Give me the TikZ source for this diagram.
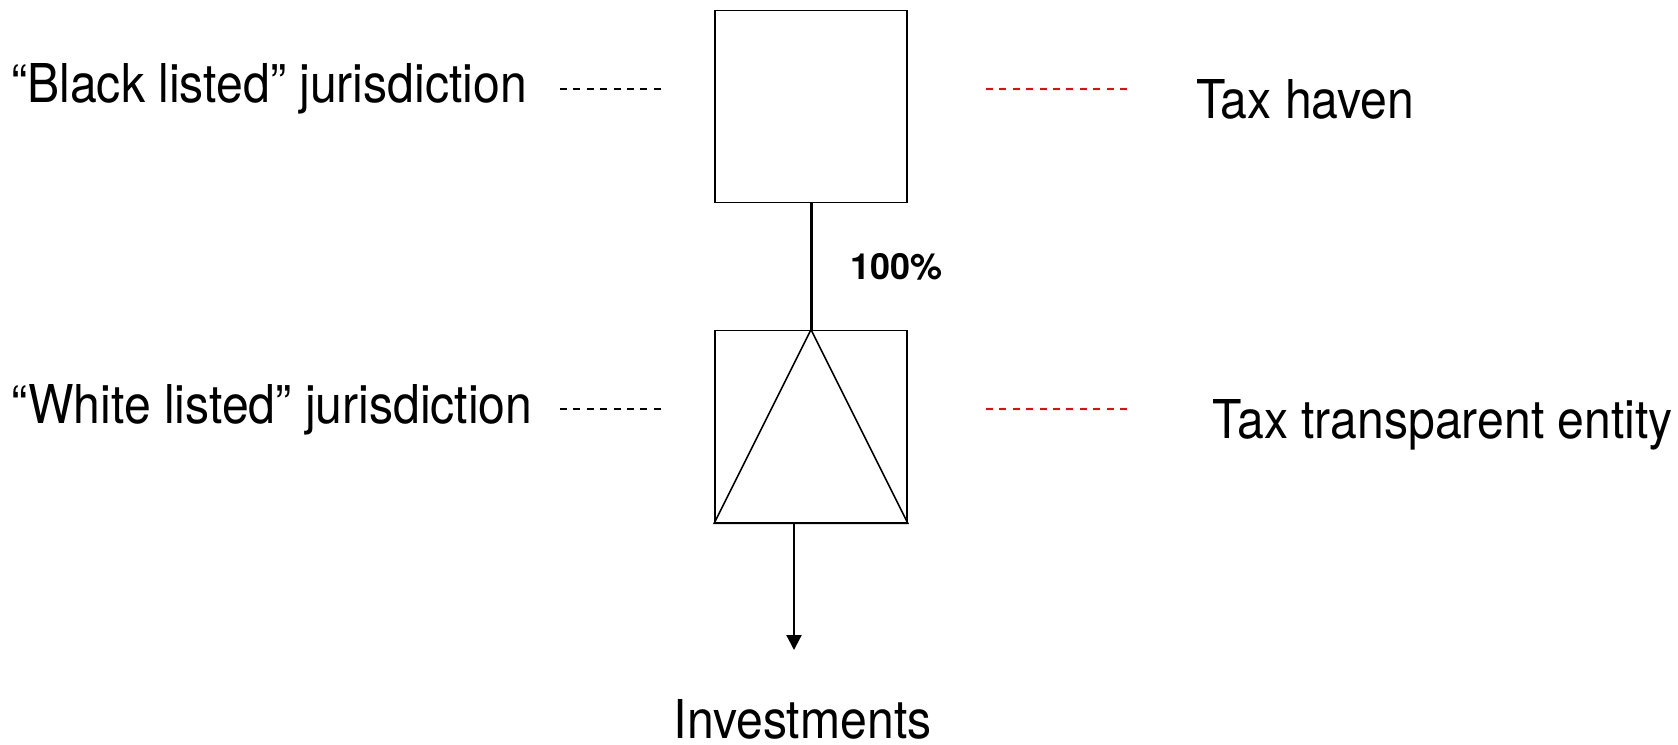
\documentclass[tikz,border=0pt]{standalone}
\usepackage{fontspec}
\setmainfont{TeX Gyre Heros}
\newfontfamily\narrowfont[FakeStretch=0.9, Ligatures=TeX]{TeX Gyre Heros}
\usetikzlibrary{arrows.meta, positioning}
\tikzstyle{entity} = [rectangle, minimum width=192pt, minimum height=192pt, inner sep=0pt, draw=black, line width=1.8pt]
\tikzstyle{jtext} = [inner sep=0pt, anchor=base west, font=\narrowfont\fontsize{53.5}{60}\selectfont]
\tikzstyle{pct} = [inner sep=0pt, font=\bfseries\fontsize{36}{42}\selectfont]
\tikzstyle{leader} = [line width=1.5pt, dash pattern=on 7pt off 6.4pt]
\tikzstyle{owner} = [line width=3pt]
\tikzstyle{arrow} = [line width=2.2pt, -{Triangle[length=15pt,width=15pt]}]

\begin{document}
\begin{tikzpicture}[x=1pt, y=-1pt, node distance=320pt]
\useasboundingbox (0,0) rectangle (1678,744);
\node (haven) [entity] at (811,106.5) {};
\node (conduit) [entity, below of=haven] {};
\draw [line width=1.5pt] (conduit.north) -- (conduit.south west) -- (conduit.south east) -- cycle;
\draw [owner] (haven.south) -- node (share) [pct, anchor=west, xshift=38pt] {100\%} (conduit.north);
\coordinate (flow) at (794,650);
\draw [arrow] (conduit.south -| flow) -- (flow);
\node (invest) [jtext, anchor=base] at (802.6,738) {Investments};
% left column
\node (black) [jtext] at (11,102) {“Black listed” jurisdiction};
\node (white) [jtext] at (11,423) {“White listed” jurisdiction};
\coordinate (bl1) at (560,88.8);  \coordinate (bl2) at (667,88.8);
\coordinate (wl1) at (560,408.8); \coordinate (wl2) at (667,408.8);
\draw [leader] (bl1) -- (bl2);
\draw [leader] (wl1) -- (wl2);
% right column
\node (taxhaven) [jtext] at (1196,118) {Tax haven};
\node (transparent) [jtext] at (1212.5,438) {Tax transparent entity};
\coordinate (tr1) at (986,88.8);  \coordinate (tr2) at (1131,88.8);
\coordinate (tt1) at (986,408.8); \coordinate (tt2) at (1131,408.8);
\draw [leader, red] (tr1) -- (tr2);
\draw [leader, red] (tt1) -- (tt2);
\end{tikzpicture}
\end{document}
